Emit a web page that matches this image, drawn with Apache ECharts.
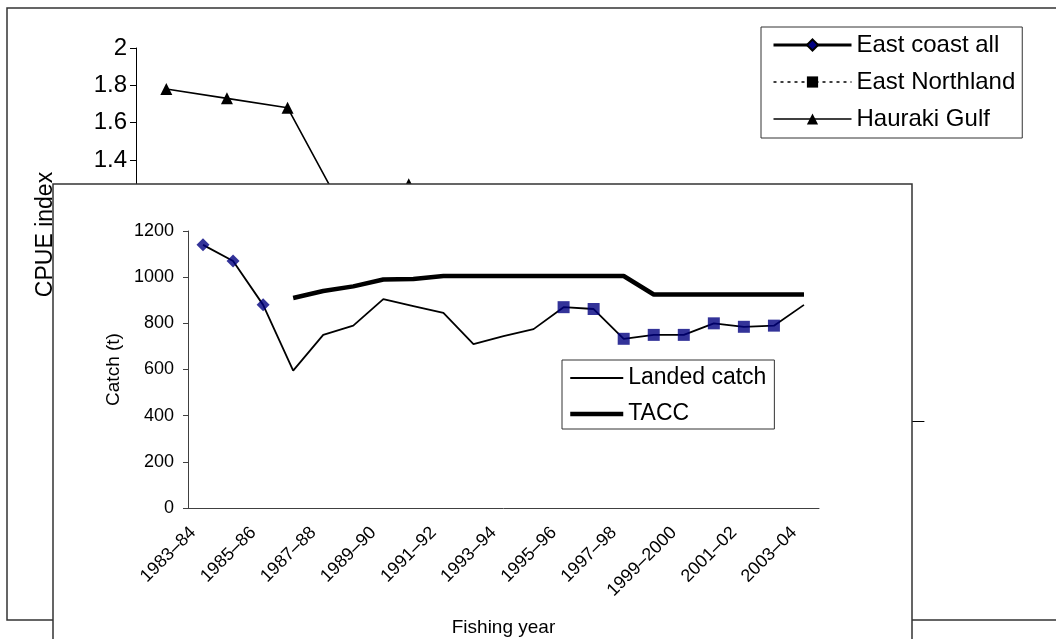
<!DOCTYPE html>
<html>
<head>
<meta charset="utf-8">
<script src="https://cdn.jsdelivr.net/npm/echarts@6/dist/echarts.min.js"></script>
<style>
html,body{margin:0;padding:0;background:#fff;}
#c{width:1056px;height:639px;}
</style>
</head>
<body>
<div id="c"></div>
<script>
// ---------- Background chart: CPUE index (mostly hidden behind the inset) ----------
const cpueYears = ['1991–92','1992–93','1993–94','1994–95','1995–96','1996–97','1997–98',
                   '1998–99','1999–2000','2000–01','2001–02','2002–03','2003–04'];
const haurakiGulf = [1.78, 1.73, 1.68, 1.08, 1.27, null, null, null, null, null, null, null, null];
const eastCoastAll = [];
const eastNorthland = [];

// ---------- Inset chart: catch and TACC ----------
const fishingYears = ['1983–84','1984–85','1985–86','1986–87','1987–88','1988–89','1989–90',
                      '1990–91','1991–92','1992–93','1993–94','1994–95','1995–96','1996–97',
                      '1997–98','1998–99','1999–2000','2000–01','2001–02','2002–03','2003–04'];
const landedCatch = [1140, 1070, 880, 595, 750, 790, 905, 875, 845, 710, 745,
                     775, 870, 862, 733, 750, 750, 800, 785, 790, 880];
const tacc = [null, null, null, 910, 940, 960, 990, 992, 1005, 1005, 1005,
              1005, 1005, 1005, 1005, 925, 925, 925, 925, 925, 925];
const diamondYears = [0, 1, 2];
const squareYears = [12, 13, 14, 15, 16, 17, 18, 19];

const FONT = '"Liberation Sans", Arial, sans-serif';
const AX = '#404040';

const chart = echarts.init(document.getElementById('c'));
chart.setOption({
  animation: false,
  backgroundColor: '#fff',
  textStyle: { fontFamily: FONT, color: '#000' },
  grid: [
    { left: 136, right: 132, top: 48, bottom: 218 },
    { left: 188, right: 237, top: 231, bottom: 131 }
  ],
  xAxis: [
    {
      gridIndex: 0, type: 'category', data: cpueYears, zlevel: 0,
      axisLine: { lineStyle: { color: '#000', width: 1 } },
      axisTick: { length: 7, lineStyle: { color: '#000' } },
      axisLabel: { show: false }
    },
    {
      gridIndex: 1, type: 'category', data: fishingYears, zlevel: 1, z: 5,
      name: 'Fishing year', nameLocation: 'middle', nameGap: 110,
      nameTextStyle: { fontSize: 19, color: '#000', fontFamily: FONT },
      axisLine: { lineStyle: { color: AX, width: 1 } },
      axisTick: { length: 5, lineStyle: { color: AX } },
      axisLabel: { interval: 1, rotate: 45, fontSize: 18, color: '#000', margin: 12,
                   padding: [0, 14, 0, 0], fontFamily: FONT }
    }
  ],
  yAxis: [
    {
      gridIndex: 0, type: 'value', min: 0, max: 2, interval: 0.2, zlevel: 0,
      name: 'CPUE index', nameLocation: 'middle', nameGap: 79,
      nameTextStyle: { fontSize: 23, color: '#000', fontFamily: FONT },
      axisLine: { show: true, lineStyle: { color: '#000', width: 1 } },
      axisTick: { show: true, length: 6, lineStyle: { color: '#000' } },
      splitLine: { show: false },
      // lower tick labels are covered by the inset panel
      axisLabel: { fontSize: 24, color: '#000', margin: 9, fontFamily: FONT,
                   formatter: v => (v >= 1.3 ? String(Math.round(v * 10) / 10) : '') }
    },
    {
      gridIndex: 1, type: 'value', min: 0, max: 1200, interval: 200, zlevel: 1, z: 5,
      name: 'Catch (t)', nameLocation: 'middle', nameGap: 59,
      nameTextStyle: { fontSize: 19, color: '#000', fontFamily: FONT },
      axisLine: { show: true, lineStyle: { color: AX, width: 1 } },
      axisTick: { show: true, length: 5, lineStyle: { color: AX } },
      splitLine: { show: false },
      axisLabel: { fontSize: 18, color: '#000', margin: 14, fontFamily: FONT,
                   formatter: v => String(v) }
    }
  ],
  legend: [
    {
      data: ['East coast all', 'East Northland', 'Hauraki Gulf'],
      orient: 'vertical', left: 761, top: 27, zlevel: 0,
      padding: [6, 7, 7, 11], itemGap: 13, itemWidth: 78, itemHeight: 14,
      borderColor: '#333', borderWidth: 1, backgroundColor: '#fff',
      selectedMode: false,
      lineStyle: { width: 'inherit' },
      textStyle: { fontSize: 24, lineHeight: 24, color: '#000', fontFamily: FONT }
    },
    {
      data: ['Landed catch', 'TACC'],
      orient: 'vertical', left: 562, top: 360, zlevel: 1, z: 8,
      padding: [6, 8, 3, 6], itemGap: 12, itemWidth: 53, itemHeight: 14,
      borderColor: '#333', borderWidth: 1, backgroundColor: '#fff',
      selectedMode: false,
      lineStyle: { width: 'inherit' },
      textStyle: { fontSize: 23, lineHeight: 24, color: '#000', fontFamily: FONT }
    }
  ],
  graphic: [
    { type: 'rect', zlevel: 0, z: 0, silent: true,
      shape: { x: 7, y: 8, width: 1070, height: 612 },
      style: { fill: 'none', stroke: '#333', lineWidth: 1.5 } },
    { type: 'rect', zlevel: 1, z: 1, silent: true,
      shape: { x: 53, y: 184, width: 859, height: 480 },
      style: { fill: '#fff', stroke: '#333', lineWidth: 1.5 } }
  ],
  series: [
    { name: 'East coast all', type: 'line', xAxisIndex: 0, yAxisIndex: 0, zlevel: 0,
      data: eastCoastAll, symbol: 'diamond', symbolSize: 11,
      lineStyle: { color: '#000', width: 3 },
      itemStyle: { color: '#000080', borderColor: '#000', borderWidth: 0.6 } },
    { name: 'East Northland', type: 'line', xAxisIndex: 0, yAxisIndex: 0, zlevel: 0,
      data: eastNorthland, symbol: 'rect', symbolSize: 11,
      lineStyle: { color: '#000', width: 1.5, type: [3, 4] },
      itemStyle: { color: '#000' } },
    { name: 'Hauraki Gulf', type: 'line', xAxisIndex: 0, yAxisIndex: 0, zlevel: 0,
      data: haurakiGulf, symbol: 'triangle', symbolSize: 12,
      lineStyle: { color: '#000', width: 1.6 },
      itemStyle: { color: '#000' } },
    { name: 'Landed catch', type: 'line', xAxisIndex: 1, yAxisIndex: 1, zlevel: 1, z: 6,
      data: landedCatch, symbol: 'none',
      itemStyle: { color: '#000', opacity: 0 },
      lineStyle: { color: '#000', width: 1.8, opacity: 1 } },
    { name: 'TACC', type: 'line', xAxisIndex: 1, yAxisIndex: 1, zlevel: 1, z: 6,
      data: tacc, symbol: 'none',
      itemStyle: { color: '#000', opacity: 0 },
      lineStyle: { color: '#000', width: 4.5, opacity: 1 } },
    { name: 'Catch markers (diamond)', type: 'scatter', xAxisIndex: 1, yAxisIndex: 1, zlevel: 1, z: 7,
      data: landedCatch.map((v, i) => diamondYears.includes(i) ? v : null),
      symbol: 'diamond', symbolSize: 13, itemStyle: { color: '#000080' } },
    { name: 'Catch markers (square)', type: 'scatter', xAxisIndex: 1, yAxisIndex: 1, zlevel: 1, z: 7,
      data: landedCatch.map((v, i) => squareYears.includes(i) ? v : null),
      symbol: 'rect', symbolSize: 12, itemStyle: { color: '#000080' } }
  ]
});
</script>
</body>
</html>
